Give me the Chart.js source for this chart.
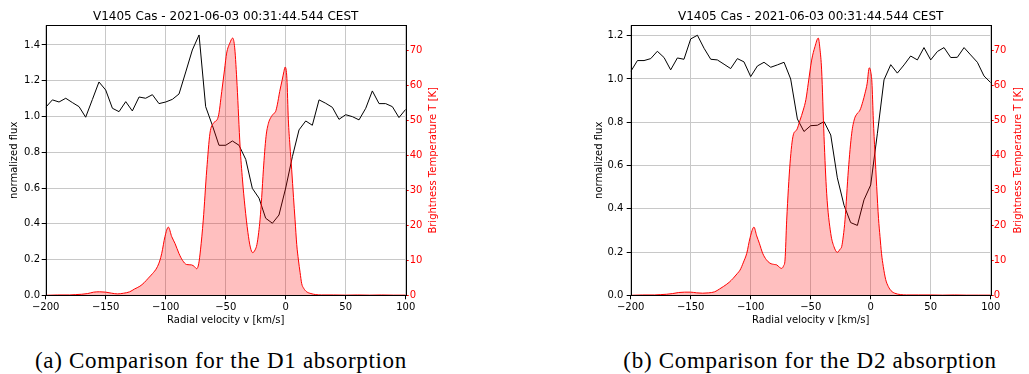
<!DOCTYPE html>
<html lang="en">
<head>
<meta charset="UTF-8">
<title>V1405 Cas - Na D absorption vs brightness temperature</title>
<script src="https://cdn.jsdelivr.net/npm/chart.js"></script>
<style>
    body {
        margin: 0;
        background: white;
        width: 1029px;
        height: 374px;
        overflow: hidden;
        position: relative;
    }
    .panel { position: absolute; top: 0; }
    #panelA { left: 0; width: 440px; height: 330px; }
    #panelB { left: 580px; width: 449px; height: 330px; }
    .caption {
        position: absolute;
        top: 349px;
        font-family: "Liberation Serif", serif;
        font-size: 23px;
        line-height: 23px;
        letter-spacing: 0.7px;
        white-space: nowrap;
        transform: translateX(-50%);
        color: #000;
    }
</style>
</head>
<body>
<div class="panel" id="panelA"><canvas id="chartD1" width="440" height="330"></canvas></div>
<div class="panel" id="panelB"><canvas id="chartD2" width="449" height="330"></canvas></div>
<div class="caption" style="left:221px">(a) Comparison for the D1 absorption</div>
<div class="caption" style="left:810px">(b) Comparison for the D2 absorption</div>

<script>
    const titleText = 'V1405 Cas - 2021-06-03 00:31:44.544 CEST';
    const tempLabel = 'Brightness Temperature T [K]';

    // tick labels
    const velTicks = [-200, -150, -100, -50, 0, 50, 100];
    const fluxTicksD1 = [0, 0.2, 0.4, 0.6, 0.8, 1.0, 1.2, 1.4];
    const fluxTicksD2 = [0, 0.2, 0.4, 0.6, 0.8, 1.0, 1.2];
    const tempTicks = [0, 10, 20, 30, 40, 50, 60, 70];

    // normalized flux (black), sampled every ~5.56 km/s
    const fluxVel = [-200, -194.4, -188.9, -183.3, -177.8, -172.2, -166.7, -161.1, -155.6, -150,
        -144.4, -138.9, -133.3, -127.8, -122.2, -116.7, -111.1, -105.6, -100, -94.4,
        -88.9, -83.3, -77.8, -72.2, -66.7, -61.1, -55.6, -50, -44.4, -38.9,
        -33.3, -27.8, -22.2, -16.7, -11.1, -5.6, 0, 5.6, 11.1, 16.7,
        22.2, 27.8, 33.3, 38.9, 44.4, 50, 55.6, 61.1, 66.7, 72.2,
        77.8, 83.3, 88.9, 94.4, 100];
    const fluxD1 = [1.051, 1.093, 1.081, 1.102, 1.078, 1.055, 0.996, 1.095, 1.193, 1.148,
        1.046, 1.027, 1.083, 1.031, 1.109, 1.102, 1.122, 1.072, 1.081, 1.096,
        1.126, 1.249, 1.372, 1.456, 1.055, 0.950, 0.839, 0.839, 0.863, 0.839,
        0.760, 0.598, 0.543, 0.431, 0.403, 0.449, 0.600, 0.776, 0.925, 0.975,
        0.951, 1.093, 1.074, 1.051, 0.984, 1.010, 0.999, 0.981, 1.046, 1.143,
        1.072, 1.072, 1.055, 0.994, 1.040];
    const fluxD2 = [1.034, 1.085, 1.085, 1.094, 1.128, 1.099, 1.042, 1.097, 1.091, 1.185,
        1.202, 1.142, 1.091, 1.088, 1.068, 1.048, 1.094, 1.079, 1.011, 1.060,
        1.077, 1.054, 1.065, 1.077, 1.000, 0.815, 0.757, 0.784, 0.786, 0.803,
        0.741, 0.543, 0.416, 0.336, 0.323, 0.441, 0.510, 0.749, 0.996, 1.066,
        1.027, 1.065, 1.106, 1.088, 1.145, 1.088, 1.127, 1.145, 1.099, 1.100,
        1.145, 1.111, 1.077, 1.014, 0.983];

    // brightness temperature (red)
    const tempVelD1 = [-200, -190, -180, -175, -170, -165, -160, -155, -150, -145,
        -140, -135, -130, -126, -121.5, -118, -114.5, -111, -107.5, -105,
        -103.3, -100.6, -97.8, -95, -92.2, -89, -86, -82.5, -78.5, -76,
        -74.2, -72.5, -71, -68.7, -65.8, -63.1, -60.3, -56.2, -53.3, -51,
        -49.2, -46.5, -44.2, -42.5, -40.5, -38, -36, -34, -31.5, -29.5,
        -27.5, -25.5, -24, -22.5, -21.4, -20, -18.6, -16.4, -14.4, -12.5,
        -10, -8.5, -7, -5, -3, -1.5, -0.5, 1, 2.2, 3.5,
        5, 6.5, 7.8, 9.2, 10.6, 12, 13.3, 15, 17.5, 21,
        25, 30, 40, 50, 60, 70, 80, 90, 100];
    const tempD1 = [0, 0.1, 0.1, 0.2, 0.3, 0.5, 0.9, 1.0, 0.9, 0.6,
        0.4, 0.6, 1.0, 1.8, 2.6, 3.6, 4.9, 6.2, 7.8, 9.8,
        12.0, 16.8, 19.5, 16.8, 14.8, 12.0, 10.0, 8.8, 8.7, 8.2,
        7.6, 9.0, 13.0, 21.5, 35.9, 46.4, 49.2, 51.1, 58.3, 64.5,
        69.3, 72.2, 73.6, 70.8, 60.0, 42.5, 33.0, 25.5, 18.0, 13.8,
        12.2, 13.0, 14.5, 18.0, 21.6, 28.0, 35.9, 45.4, 49.2, 50.8,
        52.0, 52.5, 54.5, 58.3, 61.5, 64.0, 65.3, 62.0, 50.2, 43.0,
        35.9, 28.0, 21.6, 14.5, 10.1, 6.5, 3.4, 2.0, 1.0, 0.5,
        0.2, 0.1, 0.1, 0.05, 0.1, 0.05, 0.1, 0.05, 0.05];

    const tempVelD2 = [-200, -190, -180, -175, -170, -165, -160, -155, -150, -145,
        -140, -135, -130, -126, -122.8, -118, -114.5, -111, -108.9, -106,
        -103.3, -100.5, -97.3, -95, -92.8, -90, -87, -84, -80, -78.3,
        -76, -74.2, -72.5, -71.4, -70, -67.2, -64.5, -61.7, -59, -56.2,
        -54, -52, -49.2, -46.4, -43.7, -42.3, -40.9, -38.9, -36.7, -33.3,
        -30.6, -27.8, -25.5, -24.2, -22.8, -21.4, -18.6, -15.8, -13.5, -11.7,
        -8.9, -6.5, -4.75, -3, -1.2, 0, 1, 2.2, 3.5, 5,
        6.5, 7.75, 9, 10.5, 12.5, 14.7, 17, 20, 25, 30,
        40, 50, 60, 70, 80, 90, 100];
    const tempD2 = [0, 0.1, 0.1, 0.2, 0.3, 0.5, 0.8, 0.9, 0.9, 0.7,
        0.6, 0.7, 1.0, 1.8, 2.5, 3.7, 4.9, 6.3, 7.2, 9.5,
        12.0, 16.5, 19.5, 17.0, 14.9, 12.0, 10.2, 9.2, 8.8, 8.7,
        8.0, 7.7, 8.5, 10.1, 21.5, 37.8, 45.9, 47.3, 50.0, 53.0,
        56.0, 60.7, 67.3, 71.2, 73.6, 70.5, 64.5, 45.4, 29.2, 17.7,
        13.9, 12.3, 13.2, 13.9, 17.0, 21.6, 35.9, 46.4, 50.5, 51.8,
        53.0, 55.5, 57.8, 60.5, 65.1, 64.0, 61.0, 50.2, 41.0, 31.1,
        22.0, 16.8, 12.0, 8.2, 4.5, 2.5, 1.3, 0.6, 0.2, 0.1,
        0.1, 0.1, 0.05, 0.1, 0.05, 0.05, 0.05];

    const fontFamily = '"DejaVu Sans", sans-serif';
    const gridColor = '#c8c8c8';

    const pts = (xs, ys) => xs.map((x, i) => ({ x: x, y: ys[i] }));
    const minus = v => (v < 0 ? '\u2212' + Math.abs(v) : String(v));

    // black frame, title above the plot, and the right axis label read bottom-to-top
    const frameTitle = {
        id: 'frameTitle',
        afterDraw(chart, args, opts) {
            const { ctx, chartArea: a } = chart;
            ctx.save();
            ctx.strokeStyle = '#000';
            ctx.lineWidth = 1;
            const l = Math.round(a.left), t = Math.round(a.top);
            ctx.strokeRect(l + 0.5, t + 0.5, Math.round(a.right) - l, Math.round(a.bottom) - t);
            ctx.fillStyle = '#000';
            ctx.font = '12px ' + fontFamily;
            ctx.textAlign = 'center';
            ctx.textBaseline = 'alphabetic';
            ctx.fillText(titleText, (a.left + a.right) / 2, 20);

            ctx.translate(opts.labelX, (a.top + a.bottom) / 2);
            ctx.rotate(-Math.PI / 2);
            ctx.fillStyle = '#ff0000';
            ctx.font = '10px ' + fontFamily;
            ctx.textBaseline = 'middle';
            ctx.fillText(tempLabel, 0, 0);
            ctx.restore();
        }
    };

    function makeChart(id, flux, tVel, temp, fluxTicks, fluxMax, box) {
        return new Chart(document.getElementById(id), {
            type: 'line',
            data: {
                datasets: [
                    {
                        label: 'Brightness Temperature',
                        data: pts(tVel, temp),
                        yAxisID: 'y2',
                        borderColor: '#ff0000',
                        backgroundColor: 'rgba(255,0,0,0.25)',
                        borderWidth: 1,
                        pointRadius: 0,
                        fill: 'origin',
                        cubicInterpolationMode: 'monotone',
                        order: 0
                    },
                    {
                        label: 'normalized flux',
                        data: pts(fluxVel, flux),
                        yAxisID: 'y',
                        borderColor: '#000',
                        borderWidth: 1,
                        pointRadius: 0,
                        fill: false,
                        tension: 0,
                        order: 1
                    }
                ]
            },
            options: {
                responsive: false,
                devicePixelRatio: 1,
                animation: false,
                layout: { padding: { top: 25.3, left: 0, right: 0, bottom: 0 } },
                plugins: {
                    legend: { display: false },
                    tooltip: { enabled: false },
                    title: { display: false },
                    frameTitle: { labelX: box.y2LabelX }
                },
                scales: {
                    x: {
                        type: 'linear',
                        min: -200,
                        max: 100,
                        afterBuildTicks: s => { s.ticks = velTicks.map(v => ({ value: v })); },
                        afterFit: s => { s.height = 34.7; },
                        ticks: {
                            color: '#000', font: { size: 10, family: fontFamily },
                            padding: 2, maxRotation: 0, autoSkip: false,
                            callback: v => minus(v)
                        },
                        grid: { color: gridColor, lineWidth: 1, tickLength: 4, tickColor: '#000' },
                        border: { display: false },
                        title: {
                            display: true, text: 'Radial velocity v [km/s]', color: '#000',
                            font: { size: 10, family: fontFamily }, padding: { top: 0, bottom: 4 }
                        }
                    },
                    y: {
                        position: 'left',
                        min: 0,
                        max: fluxMax,
                        afterBuildTicks: s => { s.ticks = fluxTicks.map(v => ({ value: v })); },
                        afterFit: s => { s.width = box.yWidth; },
                        ticks: {
                            color: '#000', font: { size: 10, family: fontFamily },
                            padding: box.yPad, callback: v => v.toFixed(1)
                        },
                        grid: { color: gridColor, lineWidth: 1, tickLength: 4, tickColor: '#000' },
                        border: { display: false },
                        title: {
                            display: true, text: 'normalized flux', color: '#000',
                            font: { size: 10, family: fontFamily }, padding: { top: box.yTitle, bottom: 0 }
                        }
                    },
                    y2: {
                        position: 'right',
                        min: 0,
                        max: 77.25,
                        afterBuildTicks: s => { s.ticks = tempTicks.map(v => ({ value: v })); },
                        afterFit: s => { s.width = box.y2Width; },
                        ticks: {
                            color: '#ff0000', font: { size: 10, family: fontFamily },
                            padding: box.y2Pad, callback: v => String(v)
                        },
                        grid: { drawOnChartArea: false, tickLength: 3, tickColor: '#ff0000', color: '#ff0000' },
                        border: { display: false },
                        title: { display: false }
                    }
                }
            },
            plugins: [frameTitle]
        });
    }

    makeChart('chartD1', fluxD1, tempVelD1, tempD1, fluxTicksD1, 1.51,
        { yWidth: 45.7, yPad: 1.7, yTitle: 8, y2Width: 34.3, y2Pad: 1, y2LabelX: 433.3 });
    makeChart('chartD2', fluxD2, tempVelD2, tempD2, fluxTicksD2, 1.248,
        { yWidth: 50.7, yPad: 3.4, yTitle: 13.2, y2Width: 38.3, y2Pad: 0, y2LabelX: 438.3 });
</script>
</body>
</html>
